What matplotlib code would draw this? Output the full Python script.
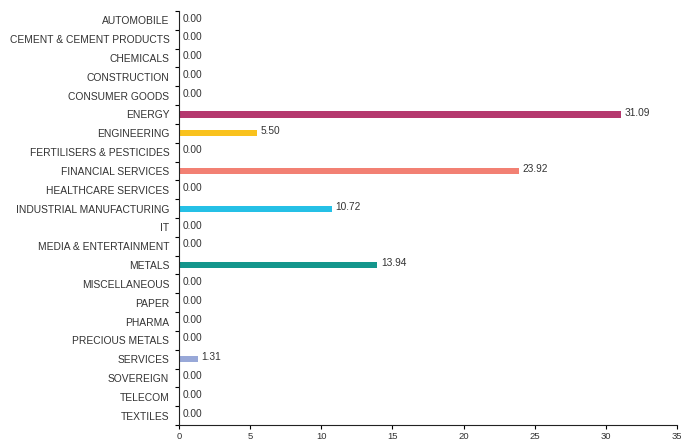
import numpy as np
import matplotlib.pyplot as plt

plt.rcParams['font.family'] = ['Liberation Sans', 'DejaVu Sans']

sectors = ["AUTOMOBILE", "CEMENT & CEMENT PRODUCTS", "CHEMICALS", "CONSTRUCTION",
           "CONSUMER GOODS", "ENERGY", "ENGINEERING", "FERTILISERS & PESTICIDES",
           "FINANCIAL SERVICES", "HEALTHCARE SERVICES", "INDUSTRIAL MANUFACTURING",
           "IT", "MEDIA & ENTERTAINMENT", "METALS", "MISCELLANEOUS", "PAPER",
           "PHARMA", "PRECIOUS METALS", "SERVICES", "SOVEREIGN", "TELECOM", "TEXTILES"]
weights = [0.00, 0.00, 0.00, 0.00, 0.00, 31.09, 5.50, 0.00, 23.92, 0.00, 10.72,
           0.00, 0.00, 13.94, 0.00, 0.00, 0.00, 0.00, 1.31, 0.00, 0.00, 0.00]
colours = ["#888888"] * 5 + ["#B5386E", "#F9C21E", "#888888", "#F28073", "#888888",
           "#25C0E6", "#888888", "#888888", "#14968C", "#888888", "#888888",
           "#888888", "#888888", "#98A8D8", "#888888", "#888888", "#888888"]

fig = plt.figure(figsize=(6.81, 4.42), dpi=100)
ax = fig.add_axes([179 / 681, 17 / 442, 498 / 681, 414 / 442])

y = np.arange(len(sectors))
ax.barh(y, weights, height=0.32, color=colours)
for yi, w in zip(y, weights):
    ax.text(w + 0.25, yi - 0.1, f"{w:.2f}", va="center", ha="left",
            fontsize=7.3, color="#333333")

ax.set_xlim(0, 35)
ax.set_ylim(len(sectors) - 0.5, -0.5)
ax.set_xticks(range(0, 36, 5))
ax.set_yticks(y)
ax.set_yticklabels(sectors)
ax.set_yticks(np.arange(-0.5, len(sectors), 1), minor=True)
ax.tick_params(axis="y", which="major", length=0, pad=7, labelsize=7.4, labelcolor="#333333")
ax.tick_params(axis="y", which="minor", length=3, width=0.8)
ax.tick_params(axis="x", length=3, width=0.8, labelsize=6.8, labelcolor="#333333", pad=2)

for side in ["top", "right"]:
    ax.spines[side].set_visible(False)
for side in ["left", "bottom"]:
    ax.spines[side].set_linewidth(0.8)
    ax.spines[side].set_color("#222222")

fig.savefig("out.png", dpi=100)
